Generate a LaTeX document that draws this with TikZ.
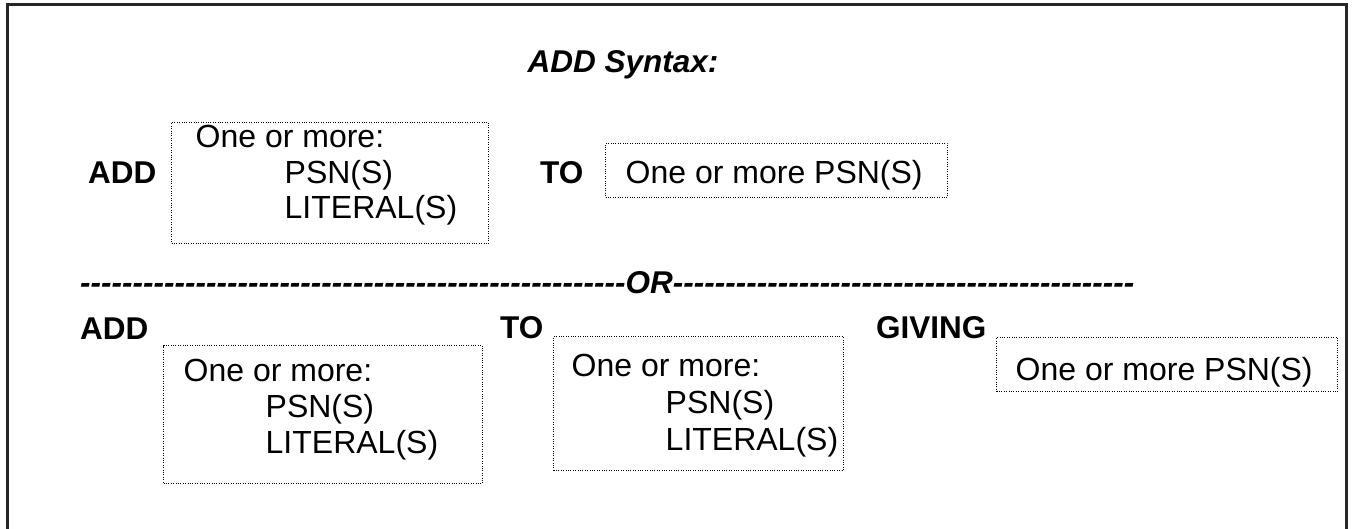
\documentclass[tikz,border=0pt]{standalone}
\usepackage{fontspec}
\setmainfont{Liberation Sans}
\newfontfamily\plainsans{Liberation Sans}
\begin{document}
\begin{tikzpicture}[x=1pt,y=-1pt,
  txt/.style={inner sep=0pt, anchor=base west, font=\fontsize{32}{37}\selectfont},
  kw/.style={txt, font=\fontsize{31.5}{37}\selectfont\bfseries},
  dotbox/.style={draw, line width=1pt, dash pattern=on 1pt off 1.4pt, inner sep=0pt, anchor=north west},
  frame/.style={line width=2.5pt, draw=black!85}
]
\useasboundingbox (0,0) rectangle (1356,529);
% outer frame (open at the bottom)
\coordinate (fbl) at (7.5,529);
\coordinate (ftl) at (7.5,4.5);
\coordinate (ftr) at (1346.5,4.5);
\coordinate (fbr) at (1346.5,529);
\draw[frame] (fbl) -- (ftl) -- (ftr) -- (fbr);
% title
\node[txt, anchor=base, font=\fontsize{31.5}{37}\selectfont\bfseries\itshape] (title) at (623,73) {ADD Syntax:};
% row 1
\node[kw] (add1) at (88,184) {ADD};
\node[dotbox, minimum width=317pt, minimum height=121pt] (b1) at (171,122) {};
\node[txt] (b1a) at (195.5,148) {One or more:};
\node[txt] (b1b) at (284.5,184) {PSN(S)};
\node[txt] (b1c) at (284.5,219) {LITERAL(S)};
\node[kw] (to1) at (540,184) {TO};
\node[dotbox, minimum width=342pt, minimum height=54pt] (b2) at (605,143) {};
\node[txt] (b2a) at (625.5,184) {One or more PSN(S)};
% OR separator
\node[txt, font=\fontsize{31.5}{37}\plainsans\bfseries\itshape] (or) at (80,293) {----------------------------------------------------OR--------------------------------------------};
% row 2
\node[kw] (add2) at (80,339) {ADD};
\node[dotbox, minimum width=319pt, minimum height=138pt] (b3) at (163,345) {};
\node[txt] (b3a) at (183.5,381) {One or more:};
\node[txt] (b3b) at (265.5,417) {PSN(S)};
\node[txt] (b3c) at (265.5,453) {LITERAL(S)};
\node[kw] (to2) at (500,338) {TO};
\node[dotbox, minimum width=290pt, minimum height=134pt] (b4) at (553,336) {};
\node[txt] (b4a) at (571.5,376) {One or more:};
\node[txt] (b4b) at (665.5,413) {PSN(S)};
\node[txt] (b4c) at (665.5,450) {LITERAL(S)};
\node[kw] (giving) at (876,338) {GIVING};
\node[dotbox, minimum width=341pt, minimum height=54pt] (b5) at (996,337) {};
\node[txt] (b5a) at (1015.5,380) {One or more PSN(S)};
\end{tikzpicture}
\end{document}
